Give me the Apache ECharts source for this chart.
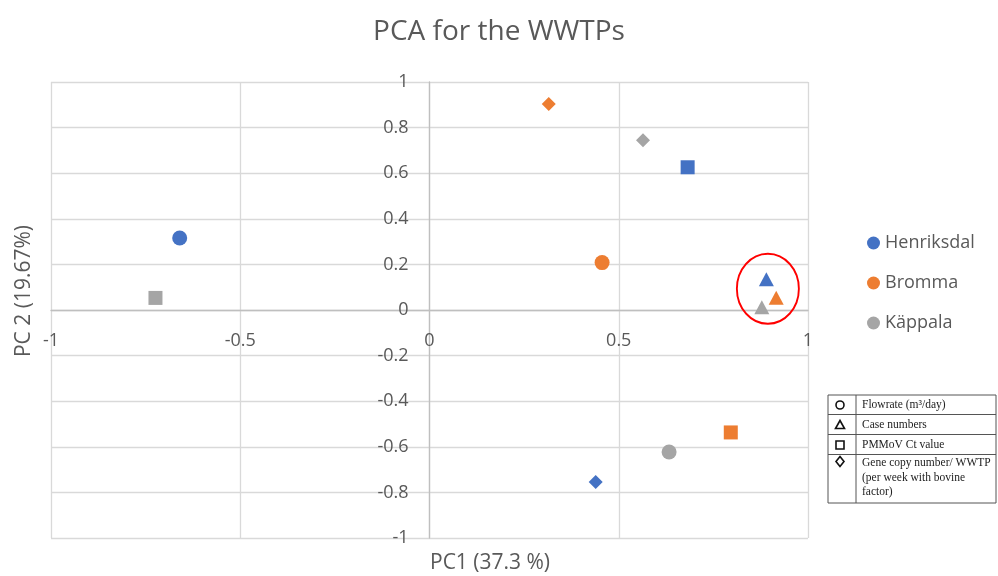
<!DOCTYPE html>
<html>
<head>
<meta charset="utf-8">
<script src="https://cdn.jsdelivr.net/npm/echarts@6/dist/echarts.min.js"></script>
<style>html,body{margin:0;padding:0;background:#fff;}#main{width:998px;height:576px;}</style>
</head>
<body>
<div id="main"></div>
<script>
// ---- data ----
const variables = ['Flowrate (m³/day)', 'Case numbers', 'PMMoV Ct value', 'Gene copy number/ WWTP (per week with bovine factor)'];
const plants = ['Henriksdal', 'Bromma', 'Käppala'];
const henriksdalPC1 = [-0.66, 0.89, 0.682, 0.439];
const henriksdalPC2 = [0.316, 0.135, 0.626, -0.754];
const brommaPC1 = [0.456, 0.916, 0.796, 0.315];
const brommaPC2 = [0.208, 0.054, -0.537, 0.903];
const kappalaPC1 = [0.633, 0.878, -0.724, 0.564];
const kappalaPC2 = [-0.623, 0.012, 0.053, 0.745];
const highlightCenter = [0.894, 0.093];
const xTicks = [-1, -0.5, 0, 0.5, 1];
const yTicks = [-1, -0.8, -0.6, -0.4, -0.2, 0, 0.2, 0.4, 0.6, 0.8, 1];
const legendRows = ['Flowrate (m³/day)', 'Case numbers', 'PMMoV Ct value', 'Gene copy number/ WWTP\n(per week with bovine\nfactor)'];

// ---- styles ----
const colors = ['#4472C4', '#ED7D31', '#A5A5A5'];
const symbolByVar = ['circle', 'triangle', 'rect', 'diamond'];
const sizeByVar = [15, [15, 14], 14, 14];
const txt = '#595959';
const FONT = 'Open Sans';

function buildSeries(name, xs, ys, color) {
  return {
    name: name,
    type: 'scatter',
    z: 3,
    itemStyle: { color: color, opacity: 1 },
    data: xs.map((x, i) => ({
      value: [x, ys[i]],
      symbol: symbolByVar[i],
      symbolSize: sizeByVar[i]
    }))
  };
}

const chart = echarts.init(document.getElementById('main'), null, { renderer: 'canvas' });

const tableX = 828, tableDiv = 856, tableR = 996;
const rowY = [395, 414.5, 434.5, 454.5, 503];
const tableGraphics = [];
tableGraphics.push({ type: 'rect', shape: { x: tableX, y: rowY[0], width: tableR - tableX, height: rowY[4] - rowY[0] }, style: { fill: '#fff', stroke: '#555', lineWidth: 1 } });
for (let i = 1; i < 4; i++) {
  tableGraphics.push({ type: 'line', shape: { x1: tableX, y1: rowY[i], x2: tableR, y2: rowY[i] }, style: { stroke: '#555', lineWidth: 1 } });
}
tableGraphics.push({ type: 'line', shape: { x1: tableDiv, y1: rowY[0], x2: tableDiv, y2: rowY[4] }, style: { stroke: '#555', lineWidth: 1 } });
const symStroke = { fill: 'none', stroke: '#111', lineWidth: 1.6 };
tableGraphics.push({ type: 'circle', shape: { cx: 840, cy: 405, r: 4 }, style: symStroke });
tableGraphics.push({ type: 'polygon', shape: { points: [[840, 420.5], [844.5, 428.5], [835.5, 428.5]] }, style: symStroke });
tableGraphics.push({ type: 'rect', shape: { x: 836, y: 441, width: 8, height: 8 }, style: symStroke });
tableGraphics.push({ type: 'polygon', shape: { points: [[840, 456.5], [844, 461.5], [840, 466.5], [836, 461.5]] }, style: symStroke });
const textCenters = [405, 424.5, 444.5];
for (let i = 0; i < 3; i++) {
  tableGraphics.push({ type: 'text', style: { x: 862, y: textCenters[i], text: legendRows[i], font: '11.5px "Liberation Serif"', fill: '#222', verticalAlign: 'middle', align: 'left' } });
}
tableGraphics.push({ type: 'text', style: { x: 862, y: 456, text: legendRows[3], font: '11.5px "Liberation Serif"', fill: '#222', verticalAlign: 'top', align: 'left', lineHeight: 14.5 } });

const option = {
  animation: false,
  backgroundColor: '#fff',
  textStyle: { fontFamily: FONT },
  title: {
    text: 'PCA for the WWTPs',
    left: 'center',
    top: 13,
    textStyle: { fontFamily: FONT, fontSize: 28, fontWeight: 'normal', color: txt }
  },
  legend: {
    data: plants,
    orient: 'vertical',
    left: 862,
    top: 229,
    itemGap: 22,
    itemWidth: 13,
    itemHeight: 13,
    icon: 'circle',
    textStyle: { fontFamily: FONT, fontSize: 18, color: txt }
  },
  grid: { left: 51, right: 190, top: 82, bottom: 38, containLabel: false, outerBoundsMode: 'none' },
  xAxis: {
    type: 'value',
    min: xTicks[0], max: xTicks[xTicks.length - 1], interval: 0.5,
    axisLine: { onZero: false, lineStyle: { color: '#BFBFBF', width: 1.3 } },
    axisTick: { show: false },
    axisLabel: { margin: 22, fontFamily: FONT, fontSize: 18, color: txt },
    splitLine: { show: true, lineStyle: { color: '#D9D9D9', width: 1.3 } }
  },
  yAxis: {
    type: 'value',
    min: yTicks[0], max: yTicks[yTicks.length - 1], interval: 0.2,
    axisLine: { onZero: false, lineStyle: { color: '#BFBFBF', width: 1.3 } },
    axisTick: { show: false },
    axisLabel: { margin: 21, fontFamily: FONT, fontSize: 18, color: txt, formatter: v => String(Math.round(v * 10) / 10) },
    splitLine: { show: true, lineStyle: { color: '#D9D9D9', width: 1.3 } }
  },
  graphic: [
    { type: 'text', style: { x: 430, y: 563, text: 'PC1 (37.3 %)', font: '21px "Open Sans"', fill: txt, align: 'left', verticalAlign: 'middle' } },
    { type: 'text', x: 24, y: 291, rotation: Math.PI / 2, style: { x: 0, y: 0, text: 'PC 2 (19.67%)', font: '21px "Open Sans"', fill: txt, align: 'center', verticalAlign: 'middle' } },
    { type: 'group', children: tableGraphics }
  ],
  series: [
    buildSeries(plants[0], henriksdalPC1, henriksdalPC2, colors[0]),
    buildSeries(plants[1], brommaPC1, brommaPC2, colors[1]),
    buildSeries(plants[2], kappalaPC1, kappalaPC2, colors[2]),
    {
      name: 'highlight',
      type: 'scatter',
      silent: true,
      z: 2,
      symbol: 'circle',
      symbolSize: [62, 70],
      itemStyle: { color: 'rgba(0,0,0,0)', opacity: 1, borderColor: '#FF0000', borderWidth: 2 },
      data: [highlightCenter]
    }
  ]
};
chart.setOption(option);

// Move the axes (line + labels) onto the zero lines, using the chart's own scales.
const xZero = chart.convertToPixel({ xAxisIndex: 0 }, 0);
const xMinPx = chart.convertToPixel({ xAxisIndex: 0 }, xTicks[0]);
const yZero = chart.convertToPixel({ yAxisIndex: 0 }, 0);
const yMinPx = chart.convertToPixel({ yAxisIndex: 0 }, yTicks[0]);
chart.setOption({
  yAxis: { offset: -(xZero - xMinPx) },
  xAxis: { offset: -(yMinPx - yZero) }
});
</script>
</body>
</html>
